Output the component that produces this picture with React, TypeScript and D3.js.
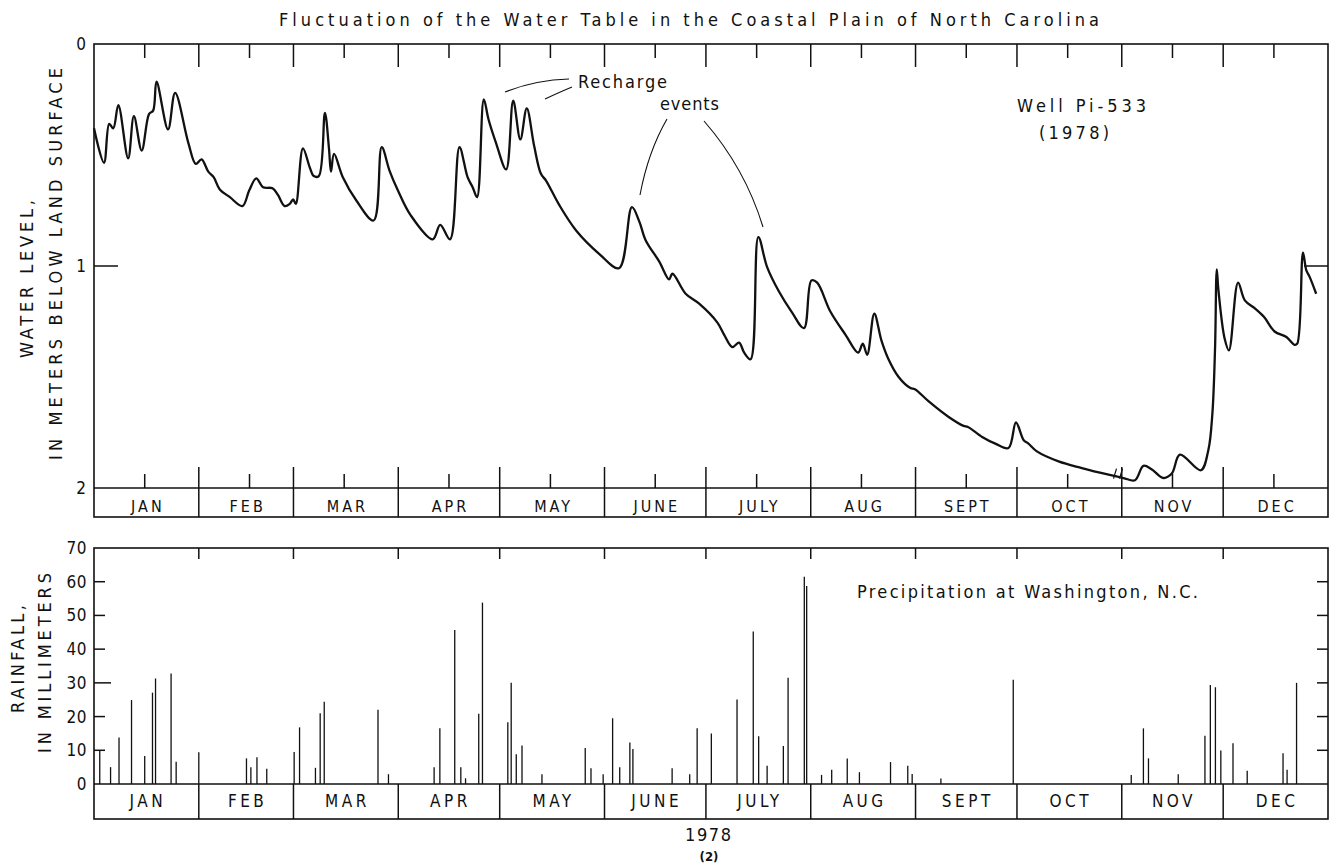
import * as React from "react";
import * as d3 from "d3";
import { useEffect, useRef } from "react";

// month band labels
const months = ["JAN", "FEB", "MAR", "APR", "MAY", "JUNE", "JULY", "AUG", "SEPT", "OCT", "NOV", "DEC"];
const levelTicks = [0, 1, 2];
const rainTicks = [0, 10, 20, 30, 40, 50, 60, 70];

// well Pi-533: day of 1978 (0 = Jan 1) and depth below land surface (m)
const waterDays = [
  0, 2.95, 4.5, 5.7, 7.2, 10.1, 11.8, 14.1, 16.3, 17.5, 18.5, 21.9, 24.0, 27.9, 30.1, 31.8, 33.8,
  35.4, 37.2, 40.2, 43.9, 45.9, 48.0, 50.0, 52.8, 54.4, 56.4, 57.9, 58.9, 59.7, 61.8, 63.8, 65.0,
  66.5, 68.3, 69.5, 70.1, 71.0, 73.6, 77.6, 82.7, 85.1, 87.4, 89.9, 93.6, 100.2, 102.4, 105.3,
  108.1, 110.5, 112.0, 113.3, 115.3, 116.7, 118.9, 121.9, 124.0, 126.1, 128.0, 130.2, 132.2,
  133.7, 137.6, 142.6, 149.4, 155.3, 159.1, 161.3, 163.2, 167.2, 170.1, 171.1, 175.0, 179.0,
  184.4, 186.4, 188.8, 190.8, 192.3, 194.2, 196.5, 199.1, 202.6, 206.5, 210.0, 212.2, 213.9,
  217.8, 222.3, 226.0, 227.4, 228.7, 230.8, 232.9, 235.0, 238.0, 241.5, 242.8, 246.9, 252.8,
  257.2, 258.5, 262.7, 266.6, 270.5, 272.7, 275.0, 276.4, 278.9, 285.3, 292.2, 300.1, 304.5,
  307.9, 310.4, 312.8, 316.3, 318.8, 321.2, 327.4, 329.6, 330.8, 331.6, 332.1, 332.6, 334.4,
  335.7, 338.4, 340.4, 343.3, 346.1, 349.2, 352.7, 355.1, 355.9, 357.6, 358.6, 359.6, 361.5,
];
const waterLevels = [
  0.38, 0.535, 0.36, 0.38, 0.275, 0.515, 0.325, 0.48, 0.315, 0.3, 0.17, 0.385, 0.22, 0.445, 0.54,
  0.52, 0.575, 0.6, 0.655, 0.69, 0.73, 0.66, 0.605, 0.645, 0.65, 0.68, 0.73, 0.72, 0.7, 0.72,
  0.47, 0.555, 0.595, 0.595, 0.31, 0.47, 0.575, 0.495, 0.6, 0.705, 0.795, 0.465, 0.57, 0.66,
  0.77, 0.88, 0.815, 0.88, 0.465, 0.6, 0.645, 0.69, 0.25, 0.34, 0.445, 0.565, 0.255, 0.43, 0.29,
  0.46, 0.585, 0.615, 0.725, 0.84, 0.945, 1.01, 0.735, 0.8, 0.885, 0.98, 1.06, 1.035, 1.125,
  1.17, 1.255, 1.31, 1.365, 1.345, 1.39, 1.42, 0.87, 1.005, 1.115, 1.21, 1.28, 1.065, 1.075,
  1.205, 1.31, 1.39, 1.35, 1.4, 1.215, 1.335, 1.42, 1.5, 1.55, 1.555, 1.61, 1.68, 1.72, 1.725,
  1.77, 1.8, 1.82, 1.705, 1.785, 1.8, 1.835, 1.88, 1.91, 1.94, 1.955, 1.965, 1.9, 1.915, 1.955,
  1.935, 1.85, 1.92, 1.83, 1.665, 1.365, 1.015, 1.11, 1.325, 1.38, 1.075, 1.155, 1.19, 1.23,
  1.295, 1.32, 1.355, 1.35, 0.94, 1.02, 1.05, 1.125,
];

// daily rainfall at Washington, N.C. (mm)
const rainDays = [
  1.7, 4.9, 7.4, 11.1, 15.0, 17.3, 18.2, 22.8, 24.3, 31.0, 45.1, 46.4, 48.2, 51.1, 59.2, 60.8,
  65.5, 66.9, 68.1, 84.0, 87.1, 100.6, 102.3, 106.7, 108.5, 109.9, 113.8, 114.9, 122.4, 123.4,
  124.9, 126.6, 132.5, 145.3, 147.0, 150.6, 153.4, 155.5, 158.5, 159.4, 171.0, 176.2, 178.4,
  182.6, 190.2, 195.0, 196.6, 199.1, 203.9, 205.3, 210.1, 210.8, 215.2, 218.2, 222.8, 226.4,
  235.6, 240.7, 242.0, 250.5, 271.9, 306.8, 310.4, 311.9, 320.7, 328.6, 330.2, 331.7, 333.3,
  336.9, 341.1, 351.7, 352.9, 355.7,
];
const rainMm = [
  10, 5, 13.8, 24.9, 8.3, 27.1, 31.3, 32.8, 6.6, 9.4, 7.6, 5, 7.9, 4.5, 9.5, 16.8, 4.8, 21,
  24.4, 22, 2.9, 5, 16.5, 45.7, 5, 1.7, 20.8, 53.8, 18.3, 30, 8.8, 11.4, 2.9, 10.7, 4.7, 2.9,
  19.5, 5, 12.3, 10.4, 4.7, 2.9, 16.5, 15, 25.1, 45.2, 14.2, 5.4, 11.3, 31.5, 61.5, 58.7, 2.7,
  4.2, 7.6, 3.5, 6.5, 5.4, 3, 1.6, 30.9, 2.7, 16.5, 7.6, 2.9, 14.3, 29.4, 28.7, 9.9, 12.1, 3.9,
  9.1, 4.2, 30,
];

const FONT = "'Liberation Sans Narrow', 'DejaVu Sans Condensed', 'DejaVu Sans', sans-serif";
const INK = "#111";

function drawChart(svgRef: React.RefObject<SVGSVGElement>) {
  const svg = d3.select(svgRef.current);
  svg.selectAll("*").remove();

  const start = new Date(1978, 0, 1);
  const end = new Date(1979, 0, 1);
  const dayDate = (d: number) => new Date(start.getTime() + d * 864e5);

  const left = 94;
  const right = 1328;
  const x = d3.scaleTime().domain([start, end]).range([left, right]);

  const top1 = 44;
  const yLevel = d3.scaleLinear().domain([0, 2]).range([top1, 488]);
  const band1 = 517;

  const yRain = d3.scaleLinear().domain([0, 70]).range([784, 548]);
  const band2 = 819;

  const g = svg.append("g").attr("font-family", FONT).attr("fill", INK);

  const monthStarts = d3.timeMonth.range(start, end);
  const inner = monthStarts.slice(1);
  const mids = monthStarts.map((m) => new Date(1978, m.getMonth(), 16));

  const hline = (x1: number, x2: number, y: number, w = 1.5) =>
    g.append("line").attr("x1", x1).attr("x2", x2).attr("y1", y).attr("y2", y)
      .attr("stroke", INK).attr("stroke-width", w);
  const vline = (xx: number, y1: number, y2: number, w = 1.5) =>
    g.append("line").attr("x1", xx).attr("x2", xx).attr("y1", y1).attr("y2", y2)
      .attr("stroke", INK).attr("stroke-width", w);

  // title
  g.append("text")
    .attr("x", 279).attr("y", 26)
    .attr("font-size", 18)
    .attr("textLength", 820).attr("lengthAdjust", "spacing")
    .text("Fluctuation of the Water Table in the Coastal Plain of North Carolina");

  /* ---------- upper panel: water level ---------- */
  g.append("rect")
    .attr("x", left).attr("y", top1).attr("width", right - left).attr("height", band1 - top1)
    .attr("fill", "none").attr("stroke", INK).attr("stroke-width", 1.6);
  hline(left, right, yLevel(2), 1.6);

  inner.forEach((m) => {
    vline(x(m), top1, top1 + 23);
    vline(x(m), yLevel(2) - 21, band1);
  });
  mids.forEach((m) => {
    vline(x(m), top1, top1 + 14);
    vline(x(m), yLevel(2) - 14, yLevel(2));
  });
  hline(left, left + 24, yLevel(1));
  hline(right - 24, right, yLevel(1));

  levelTicks.forEach((v) => {
    g.append("text")
      .attr("x", 86).attr("y", yLevel(v) + 6)
      .attr("text-anchor", "end").attr("font-size", 17)
      .text(String(v));
  });

  months.forEach((name, i) => {
    const a = x(monthStarts[i]);
    const b = i < 11 ? x(monthStarts[i + 1]) : right;
    g.append("text")
      .attr("x", (a + b) / 2 + 1.5).attr("y", 512)
      .attr("text-anchor", "middle").attr("font-size", 16)
      .attr("letter-spacing", 3)
      .text(name);
    g.append("text")
      .attr("x", (a + b) / 2 + 1.5).attr("y", 807)
      .attr("text-anchor", "middle").attr("font-size", 17)
      .attr("letter-spacing", 3.5)
      .text(name);
  });

  const level = d3
    .line<number>()
    .x((d, i) => x(dayDate(waterDays[i])))
    .y((d) => yLevel(d))
    .curve(d3.curveCatmullRom.alpha(0.5));
  g.append("path")
    .datum(waterLevels)
    .attr("d", level)
    .attr("fill", "none")
    .attr("stroke", INK)
    .attr("stroke-width", 2.3)
    .attr("stroke-linejoin", "round");

  // small break marks on the record near the end of October
  const bx = x(dayDate(302));
  const by = yLevel(1.935);
  [0, 6].forEach((o) => {
    g.append("line")
      .attr("x1", bx + o - 1.5).attr("x2", bx + o + 1.5)
      .attr("y1", by + 5).attr("y2", by - 5)
      .attr("stroke", INK).attr("stroke-width", 1.2);
  });

  // annotations
  const thin = (d: string) =>
    g.append("path").attr("d", d).attr("fill", "none").attr("stroke", INK).attr("stroke-width", 1.1);
  thin("M505,92 Q535,80 569,79");
  thin("M545,99 Q560,92 572,87");
  thin("M667,119 Q648,152 640,195");
  thin("M704,121 Q745,168 763,227");

  g.append("text").attr("x", 578).attr("y", 88).attr("font-size", 18)
    .attr("textLength", 89).attr("lengthAdjust", "spacing").text("Recharge");
  g.append("text").attr("x", 660).attr("y", 110).attr("font-size", 18)
    .attr("textLength", 59).attr("lengthAdjust", "spacing").text("events");
  g.append("text").attr("x", 1017).attr("y", 112).attr("font-size", 18)
    .attr("textLength", 129).attr("lengthAdjust", "spacing").text("Well Pi-533");
  g.append("text").attr("x", 1039).attr("y", 139).attr("font-size", 18)
    .attr("textLength", 70).attr("lengthAdjust", "spacing").text("(1978)");

  // y label, upper
  g.append("text")
    .attr("transform", "translate(33,279) rotate(-90)")
    .attr("text-anchor", "middle").attr("font-size", 18)
    .attr("textLength", 158).attr("lengthAdjust", "spacing")
    .text("WATER LEVEL,");
  g.append("text")
    .attr("transform", "translate(62,264) rotate(-90)")
    .attr("text-anchor", "middle").attr("font-size", 18)
    .attr("textLength", 392).attr("lengthAdjust", "spacing")
    .text("IN METERS BELOW LAND SURFACE");

  /* ---------- lower panel: rainfall ---------- */
  g.append("rect")
    .attr("x", left).attr("y", yRain(70)).attr("width", right - left).attr("height", band2 - yRain(70))
    .attr("fill", "none").attr("stroke", INK).attr("stroke-width", 1.6);
  hline(left, right, yRain(0), 1.6);

  inner.forEach((m) => {
    vline(x(m), yRain(70), yRain(70) + 11);
    vline(x(m), yRain(0), band2);
  });
  rainTicks.filter((v) => v > 0 && v < 70).forEach((v) => {
    hline(left, left + (v === 30 ? 17 : 11), yRain(v));
    hline(right - 11, right, yRain(v));
  });
  rainTicks.forEach((v) => {
    g.append("text")
      .attr("x", 87).attr("y", yRain(v) + 6)
      .attr("text-anchor", "end").attr("font-size", 17)
      .attr("letter-spacing", 0.5)
      .text(String(v));
  });

  g.selectAll(".rain")
    .data(rainMm)
    .enter()
    .append("line")
    .attr("class", "rain")
    .attr("x1", (d, i) => x(dayDate(rainDays[i])))
    .attr("x2", (d, i) => x(dayDate(rainDays[i])))
    .attr("y1", yRain(0))
    .attr("y2", (d) => yRain(d))
    .attr("stroke", INK)
    .attr("stroke-width", 1.3);

  g.append("text").attr("x", 857).attr("y", 598).attr("font-size", 18)
    .attr("textLength", 341).attr("lengthAdjust", "spacing")
    .text("Precipitation at Washington, N.C.");

  g.append("text")
    .attr("transform", "translate(24,659) rotate(-90)")
    .attr("text-anchor", "middle").attr("font-size", 18)
    .attr("textLength", 108).attr("lengthAdjust", "spacing")
    .text("RAINFALL,");
  g.append("text")
    .attr("transform", "translate(51,663) rotate(-90)")
    .attr("text-anchor", "middle").attr("font-size", 18)
    .attr("textLength", 180).attr("lengthAdjust", "spacing")
    .text("IN MILLIMETERS");

  g.append("text").attr("x", 685).attr("y", 841).attr("font-size", 18)
    .attr("textLength", 46).attr("lengthAdjust", "spacing").text("1978");
  g.append("text").attr("x", 709).attr("y", 861).attr("font-size", 13)
    .attr("font-weight", "bold").attr("text-anchor", "middle").text("(2)");
}

export default function App() {
  const svg = useRef<SVGSVGElement>(null);
  useEffect(() => {
    drawChart(svg);
  }, []);
  return (
    <svg
      ref={svg}
      width={1332}
      height={865}
      style={{ position: "absolute", left: 0, top: 0, background: "#fff" }}
    />
  );
}
